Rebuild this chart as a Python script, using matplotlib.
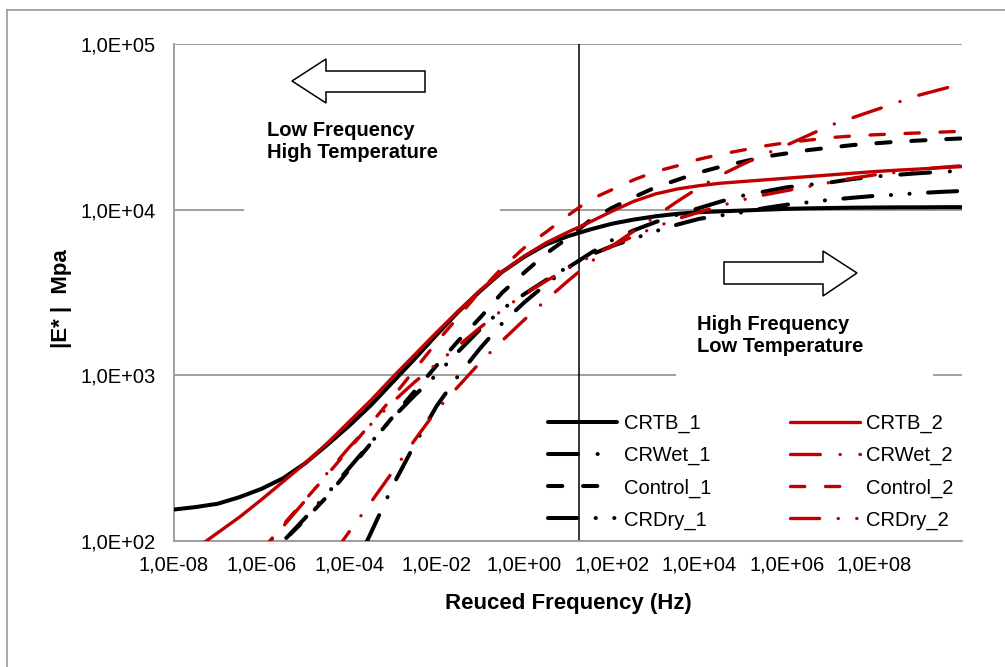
import matplotlib
matplotlib.use("Agg")
import matplotlib.pyplot as plt
import numpy as np
from matplotlib.patches import Polygon, Rectangle
from matplotlib.lines import Line2D

plt.rcParams['font.family'] = ['Liberation Sans', 'DejaVu Sans']
plt.rcParams['lines.scale_dashes'] = False

W, H = 1005, 667
RED = '#C00000'
GRID = '#999999'

# reduced frequency, decade exponents read every half decade
freq_exp = [-8, -7.5, -7, -6.5, -6, -5.5, -5, -4.5, -4, -3.5, -3, -2.5, -2, -1.5,
            -1, -0.5, 0, 0.5, 1, 1.5, 2, 2.5, 3, 3.5, 4, 4.5, 5, 5.5, 6, 6.5,
            7, 7.5, 8, 8.5, 9, 9.5, 10]

# log10 |E*| (MPa) at the frequencies above
crtb_1 = [2.19, 2.205, 2.225, 2.265, 2.315, 2.38, 2.47, 2.58, 2.695, 2.82,
          2.96, 3.10, 3.245, 3.385, 3.51, 3.625, 3.715, 3.79, 3.84, 3.88,
          3.915, 3.94, 3.96, 3.975, 3.985, 3.99, 3.995, 4.0, 4.005, 4.008,
          4.01, 4.012, 4.013, 4.014, 4.014, 4.015, 4.015]
crwet_1 = [-0.6, -0.3, 0.0, 0.3, 0.6, 0.9, 1.2, 1.5, 1.77, 2.05,
           2.335, 2.585, 2.815, 3.0, 3.165, 3.315, 3.44, 3.55, 3.65, 3.735,
           3.815, 3.875, 3.925, 3.97, 4.01, 4.05, 4.085, 4.11, 4.135, 4.15,
           4.165, 4.185, 4.2, 4.21, 4.22, 4.228, 4.235]
control_1 = [1.25, 1.4, 1.55, 1.7, 1.85, 2.0, 2.13, 2.27, 2.43, 2.59,
             2.75, 2.905, 3.06, 3.21, 3.35, 3.5, 3.62, 3.735, 3.83, 3.935,
             4.01, 4.075, 4.135, 4.18, 4.225, 4.26, 4.29, 4.32, 4.34, 4.36,
             4.375, 4.39, 4.4, 4.41, 4.417, 4.424, 4.43]
crdry_1 = [1.25, 1.4, 1.55, 1.7, 1.85, 2.0, 2.14, 2.285, 2.44, 2.595,
           2.745, 2.88, 3.005, 3.145, 3.28, 3.4, 3.49, 3.575, 3.655, 3.725,
           3.78, 3.825, 3.87, 3.91, 3.945, 3.965, 3.985, 4.01, 4.03, 4.045,
           4.06, 4.072, 4.083, 4.09, 4.1, 4.107, 4.113]
crtb_2 = [1.86, 1.955, 2.05, 2.145, 2.25, 2.36, 2.47, 2.59, 2.72, 2.85,
          2.99, 3.125, 3.26, 3.39, 3.515, 3.625, 3.72, 3.8, 3.865, 3.925,
          3.99, 4.05, 4.095, 4.125, 4.145, 4.16, 4.17, 4.18, 4.19, 4.2,
          4.21, 4.22, 4.23, 4.238, 4.245, 4.253, 4.26]
crwet_2 = [0.6, 0.79, 0.97, 1.15, 1.33, 1.51, 1.69, 1.87, 2.055, 2.235,
           2.42, 2.61, 2.79, 2.935, 3.08, 3.21, 3.335, 3.455, 3.57, 3.68,
           3.78, 3.87, 3.96, 4.05, 4.135, 4.21, 4.275, 4.335, 4.39, 4.45,
           4.51, 4.555, 4.6, 4.645, 4.69, 4.725, 4.76]
control_2 = [1.3, 1.46, 1.62, 1.78, 1.94, 2.1, 2.25, 2.4, 2.555, 2.71,
             2.87, 3.035, 3.2, 3.355, 3.51, 3.65, 3.77, 3.865, 3.965, 4.06,
             4.12, 4.18, 4.23, 4.265, 4.305, 4.335, 4.36, 4.385, 4.405, 4.42,
             4.435, 4.445, 4.452, 4.458, 4.463, 4.468, 4.473]
crdry_2 = [1.32, 1.47, 1.62, 1.78, 1.935, 2.09, 2.245, 2.41, 2.565, 2.705,
           2.84, 2.96, 3.07, 3.18, 3.29, 3.395, 3.49, 3.57, 3.645, 3.715,
           3.78, 3.84, 3.895, 3.945, 3.985, 4.025, 4.06, 4.09, 4.115, 4.14,
           4.165, 4.19, 4.21, 4.225, 4.242, 4.255, 4.265]

x_ticks = [1e-8, 1e-6, 1e-4, 1e-2, 1e0, 1e2, 1e4, 1e6, 1e8]
x_ticklabels = ['1,0E-08', '1,0E-06', '1,0E-04', '1,0E-02', '1,0E+00',
                '1,0E+02', '1,0E+04', '1,0E+06', '1,0E+08']
y_ticks = [1e2, 1e3, 1e4, 1e5]
y_ticklabels = ['1,0E+02', '1,0E+03', '1,0E+04', '1,0E+05']
ref_freq = 18

solid = None
dashed = (10.3, 14.9)
lg_dash_dot = (21.5, 14.2, 0.1, 14.2)
lg_dash_dot_dot = (21, 13.3, 0.1, 13.3, 0.1, 13.3)

series = [
    ('CRTB_1', crtb_1, 'black', 2.9, solid),
    ('CRWet_1', crwet_1, 'black', 2.9, lg_dash_dot),
    ('Control_1', control_1, 'black', 2.9, dashed),
    ('CRDry_1', crdry_1, 'black', 2.9, lg_dash_dot_dot),
    ('CRTB_2', crtb_2, RED, 2.4, solid),
    ('CRWet_2', crwet_2, RED, 2.4, lg_dash_dot),
    ('Control_2', control_2, RED, 2.4, dashed),
    ('CRDry_2', crdry_2, RED, 2.4, lg_dash_dot_dot),
]


def px(x, y):
    return (x / W, 1 - y / H)


freq = np.power(10.0, freq_exp)

fig = plt.figure(figsize=(W / 100, H / 100), dpi=100)
ax = fig.add_axes([174 / W, 1 - 541 / H, 788 / W, 497 / H])

# chart area border (left and top edges only visible)
top = px(0, 10)[1]
fig.add_artist(Line2D([7 / W, 7 / W], [0, top], transform=fig.transFigure, color=GRID, lw=1.2))
fig.add_artist(Line2D([7 / W, 1], [top, top], transform=fig.transFigure, color=GRID, lw=1.2))

handles = []
for label, vals, color, lw, dashes in series:
    line, = ax.plot(freq, np.power(10.0, vals), color=color, lw=lw, label=label,
                    solid_capstyle='round', dash_capstyle='round',
                    solid_joinstyle='round', zorder=3)
    if dashes is not None:
        line.set_dashes(dashes)
    handles.append(line)

ax.axvline(ref_freq, color='black', lw=1.1, zorder=2.5)

ax.set_xscale('log')
ax.set_yscale('log')
ax.set_xlim(1e-8, 1e10)
ax.set_ylim(1e2, 1e5)
ax.set_xticks(x_ticks)
ax.set_xticklabels(x_ticklabels)
ax.set_yticks(y_ticks)
ax.set_yticklabels(y_ticklabels)
ax.minorticks_off()
ax.tick_params(axis='x', length=0, pad=10.5, labelsize=14.5)
ax.tick_params(axis='y', length=0, pad=13.5, labelsize=14.5)

ax.set_axisbelow(True)
ax.yaxis.grid(True, color=GRID, lw=1.3)
for side in ['top', 'right']:
    ax.spines[side].set_visible(False)
for side in ['left', 'bottom']:
    ax.spines[side].set_color(GRID)
    ax.spines[side].set_linewidth(1.3)

# text boxes hide the gridlines behind them
ax.add_patch(Rectangle(((244 - 174) / 788, 0.64), (500 - 244) / 788, 0.33,
                       transform=ax.transAxes, facecolor='white', edgecolor='none', zorder=1))
ax.add_patch(Rectangle(((676 - 174) / 788, 0.32), (933 - 676) / 788, 0.28,
                       transform=ax.transAxes, facecolor='white', edgecolor='none', zorder=1))

# block arrows
left_arrow = [px(292, 81), px(326, 59), px(326, 71), px(425, 71),
              px(425, 92), px(326, 92), px(326, 103)]
right_arrow = [px(724, 262), px(823, 262), px(823, 251), px(857, 273),
               px(823, 296), px(823, 284), px(724, 284)]
for pts in [left_arrow, right_arrow]:
    fig.add_artist(Polygon(pts, closed=True, transform=fig.transFigure,
                           facecolor='white', edgecolor='black', lw=1.1, zorder=5))

bold = dict(fontsize=14.5, fontweight='bold', va='baseline', ha='left')
fig.text(*px(267, 136), 'Low Frequency', **bold)
fig.text(*px(267, 157.7), 'High Temperature', **bold)
fig.text(*px(697, 330), 'High Frequency', **bold)
fig.text(*px(697, 351.7), 'Low Temperature', **bold)

fig.text(*px(568, 604), 'Reuced Frequency (Hz)', fontsize=16, fontweight='bold',
         ha='center', va='center')
fig.text(*px(61, 299), '|E* |  Mpa', fontsize=16, fontweight='bold',
         ha='center', va='center', rotation=90)

ax.legend(handles=handles, ncol=2, loc='upper left',
          bbox_to_anchor=((548 - 174) / 788, (541 - 414) / 497),
          frameon=False, fontsize=14.5, handlelength=3.45, handletextpad=0.3,
          columnspacing=3.95, labelspacing=0.64, borderpad=0, borderaxespad=0)

fig.savefig('out.png', dpi=100)
